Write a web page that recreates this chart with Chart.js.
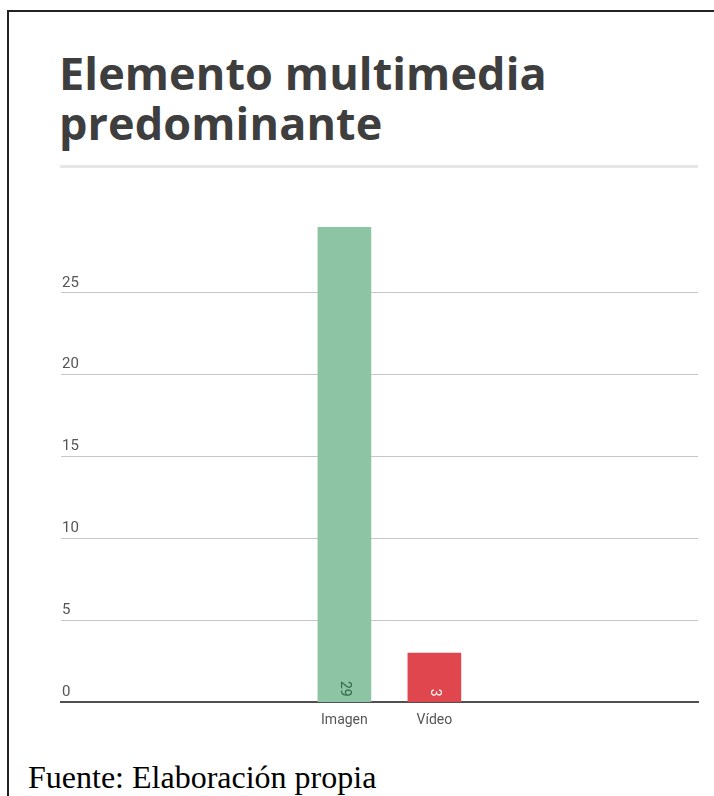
<!DOCTYPE html>
<html>
<head>
<meta charset="utf-8">
<script src="https://cdn.jsdelivr.net/npm/chart.js@4"></script>
<style>
  html, body { margin: 0; padding: 0; background: #fff; }
  body { width: 714px; height: 796px; position: relative; overflow: hidden; }
  .frame { position: absolute; left: 7px; top: 10px; right: -10px; bottom: -10px;
           border-top: 2px solid #222; border-left: 2px solid #222; }
  .title { position: absolute; left: 59px; top: 48px; margin: 0;
           font-family: "Open Sans", sans-serif; font-weight: 700; font-size: 45px;
           line-height: 50px; color: #3e3e3e; letter-spacing: 0.1px; }
  .rule { position: absolute; left: 60px; top: 165px; width: 638px; height: 3px; background: #e6e6e6; }
  .wrap { position: absolute; left: 0; top: 180px; width: 714px; height: 559px; }
  .source { position: absolute; left: 28px; top: 761px; margin: 0;
            font-family: "Liberation Serif", "Times New Roman", serif; font-size: 32px;
            line-height: 32px; color: #000; }
</style>
</head>
<body>
<div class="frame"></div>
<h1 class="title">Elemento multimedia<br>predominante</h1>
<div class="rule"></div>
<div class="wrap"><canvas id="chart"></canvas></div>
<p class="source">Fuente: Elaboración propia</p>

<script>
const categories = ['Imagen', 'Vídeo'];
const values = [29, 3];
const barColors = ['#8cc4a4', '#e0464e'];
const valueLabelColors = ['#2f6a4c', '#ffffff'];
const yTicks = [0, 5, 10, 15, 20, 25];

// rotated value labels sitting at the foot of each bar
const barLabels = {
  id: 'barLabels',
  afterDatasetsDraw(chart) {
    const ctx = chart.ctx;
    const meta = chart.getDatasetMeta(0);
    meta.data.forEach((bar, i) => {
      ctx.save();
      ctx.translate(bar.x, bar.base - 5);
      ctx.rotate(Math.PI / 2);
      ctx.font = '14px Roboto';
      ctx.fillStyle = valueLabelColors[i];
      ctx.textAlign = 'right';
      ctx.textBaseline = 'middle';
      ctx.fillText(String(values[i]), 0, 0);
      ctx.restore();
    });
  }
};

const ctx = document.getElementById('chart').getContext('2d');
new Chart(ctx, {
  type: 'bar',
  data: {
    datasets: [{
      data: values.map((v, i) => ({x: i, y: v})),
      backgroundColor: barColors,
      barThickness: 53,
      borderWidth: 0
    }]
  },
  options: {
    responsive: true,
    maintainAspectRatio: false,
    animation: false,
    layout: { padding: {left: 59, right: 16, top: 31, bottom: 0} },
    plugins: { legend: {display: false}, tooltip: {enabled: false} },
    scales: {
      x: {
        type: 'linear',
        offset: false,
        min: -3.15,
        max: 3.93,
        afterBuildTicks: (scale) => { scale.ticks = categories.map((c, i) => ({value: i})); },
        grid: { display: false, drawTicks: false },
        border: { display: true, color: '#505050', width: 2 },
        ticks: {
          autoSkip: false,
          maxRotation: 0,
          padding: 10,
          color: '#555',
          font: { family: 'Roboto', size: 14 },
          callback: (v) => categories[v] ?? ''
        }
      },
      y: {
        min: 0,
        max: 30,
        afterBuildTicks: (scale) => { scale.ticks = yTicks.map(v => ({value: v})); },
        grid: {
          drawTicks: false,
          color: (c) => c.tick && c.tick.value === 0 ? 'rgba(0,0,0,0)' : '#c6c6c6',
          lineWidth: 1
        },
        border: { display: false },
        ticks: {
          mirror: true,
          padding: 1,
          labelOffset: -10,
          color: '#555',
          font: { family: 'Roboto', size: 15 }
        }
      }
    }
  },
  plugins: [barLabels]
});
</script>
</body>
</html>
